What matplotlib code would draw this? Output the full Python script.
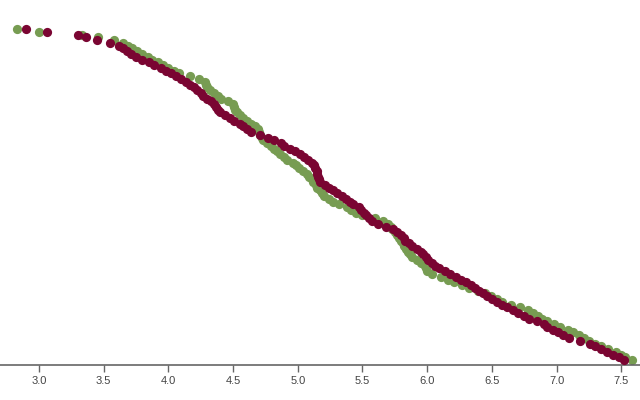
import matplotlib.pyplot as plt
import numpy as np

# sorted values per series, plotted against their rank (top = smallest)
green_values = [
    2.83, 3.00, 3.33, 3.46, 3.58, 3.65, 3.69, 3.72, 3.76, 3.80,
    3.84, 3.87, 3.92, 3.96, 4.00, 4.04, 4.08, 4.17, 4.24, 4.28,
    4.29, 4.30, 4.32, 4.35, 4.38, 4.41, 4.46, 4.50, 4.51, 4.515,
    4.53, 4.55, 4.58, 4.61, 4.64, 4.67, 4.69, 4.70, 4.71, 4.72,
    4.73, 4.76, 4.79, 4.82, 4.84, 4.86, 4.89, 4.92, 4.96, 4.99,
    5.01, 5.04, 5.07, 5.09, 5.11, 5.12, 5.14, 5.15, 5.17, 5.19,
    5.20, 5.24, 5.27, 5.32, 5.38, 5.41, 5.45, 5.50, 5.60, 5.66,
    5.70, 5.72, 5.73, 5.75, 5.77, 5.78, 5.80, 5.81, 5.82, 5.84,
    5.85, 5.87, 5.88, 5.92, 5.95, 5.98, 5.99, 6.00, 6.04, 6.11,
    6.16, 6.21, 6.27, 6.32, 6.39, 6.45, 6.49, 6.54, 6.58, 6.65,
    6.72, 6.78, 6.82, 6.86, 6.89, 6.93, 6.98, 7.03, 7.09, 7.13,
    7.17, 7.21, 7.25, 7.30, 7.34, 7.40, 7.46, 7.50, 7.53, 7.58,
]

maroon_values = [
    2.90, 3.06, 3.30, 3.36, 3.45, 3.55, 3.62, 3.65, 3.68, 3.71,
    3.75, 3.80, 3.85, 3.89, 3.94, 3.98, 4.02, 4.06, 4.10, 4.14,
    4.17, 4.20, 4.22, 4.25, 4.27, 4.30, 4.33, 4.35, 4.37, 4.38,
    4.40, 4.44, 4.48, 4.51, 4.55, 4.58, 4.61, 4.64, 4.71, 4.77,
    4.82, 4.87, 4.89, 4.94, 4.98, 5.02, 5.05, 5.08, 5.11, 5.125,
    5.13, 5.145, 5.15, 5.16, 5.165, 5.17, 5.21, 5.24, 5.27, 5.30,
    5.34, 5.37, 5.40, 5.43, 5.47, 5.49, 5.51, 5.53, 5.55, 5.57,
    5.62, 5.68, 5.74, 5.77, 5.80, 5.82, 5.83, 5.86, 5.88, 5.92,
    5.95, 5.97, 5.99, 6.01, 6.04, 6.06, 6.09, 6.14, 6.18, 6.22,
    6.26, 6.30, 6.34, 6.37, 6.40, 6.43, 6.46, 6.50, 6.54, 6.58,
    6.62, 6.66, 6.70, 6.75, 6.79, 6.85, 6.90, 6.93, 6.97, 7.01,
    7.05, 7.10, 7.18, 7.26, 7.30, 7.34, 7.39, 7.44, 7.48, 7.52,
]

x_ticks = [3.0, 3.5, 4.0, 4.5, 5.0, 5.5, 6.0, 6.5, 7.0, 7.5]

GREEN = "#779c52"
MAROON = "#7a0532"


def main():
    fig = plt.figure(figsize=(6.4, 4.0), dpi=100)
    ax = fig.add_axes([0, 0.0875, 1, 0.8875])

    green_rank = np.arange(len(green_values))
    maroon_rank = np.arange(len(maroon_values))

    ax.scatter(green_values, green_rank, s=44, color=GREEN, linewidths=0, zorder=2)
    ax.scatter(maroon_values, maroon_rank, s=44, color=MAROON, linewidths=0, zorder=3)

    ax.set_xlim(2.699, 7.645)
    ax.set_ylim(120.7, -6.8)

    for side in ["top", "left", "right"]:
        ax.spines[side].set_visible(False)
    ax.spines["bottom"].set_color("#666666")
    ax.spines["bottom"].set_linewidth(1.2)

    ax.set_yticks([])
    ax.set_xticks(x_ticks)
    ax.set_xticklabels([f"{t:.1f}" for t in x_ticks])
    ax.tick_params(axis="x", length=5, width=1, color="#666666",
                   labelsize=8, labelcolor="#444444", pad=3)
    for label in ax.get_xticklabels():
        label.set_fontfamily("Liberation Sans")

    fig.savefig("out.png", dpi=100)
    plt.close(fig)


if __name__ == "__main__":
    main()
